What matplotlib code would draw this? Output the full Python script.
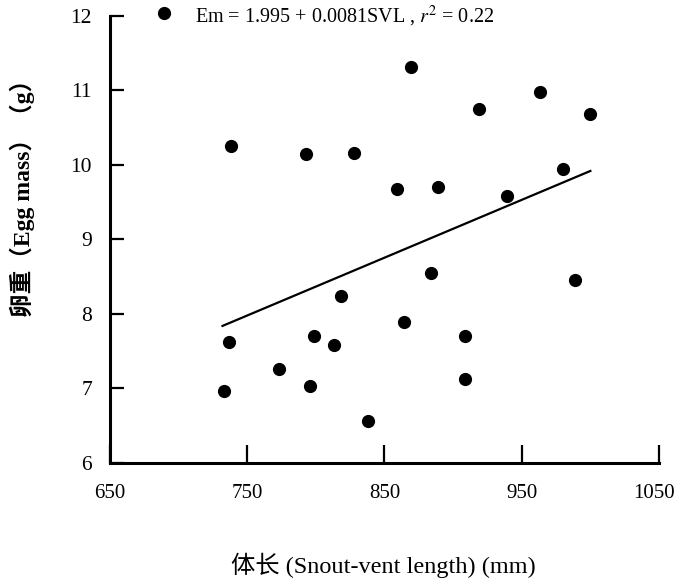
import matplotlib
matplotlib.use("Agg")
import matplotlib.pyplot as plt
import matplotlib.transforms as mtransforms

# Snout-vent length (mm) and egg mass (g)
svl = [689, 738, 793, 869, 963, 919, 1000, 828, 859, 889, 939, 980,
       884, 989, 818, 737, 799, 813, 773, 796, 733, 864, 909, 909, 838]
egg_mass = [12.04, 10.25, 10.15, 11.31, 10.98, 10.75, 10.69, 10.16, 9.68,
            9.71, 9.59, 9.94, 8.55, 8.45, 8.24, 7.63, 7.70, 7.58, 7.26,
            7.03, 6.97, 7.89, 7.70, 7.13, 6.56]

# regression line end points as drawn
fit_x = [732, 1000]
fit_y = [7.84, 9.92]

x_ticks = [650, 750, 850, 950, 1050]
y_ticks = [6, 7, 8, 9, 10, 11, 12]

plt.rcParams["font.family"] = ["Liberation Serif", "Noto Sans CJK SC"]
plt.rcParams["mathtext.fontset"] = "stix"

fig = plt.figure(figsize=(6.78, 5.88), dpi=100)
ax = fig.add_axes([0.1622, 0.2126, 0.8098, 0.7602])

ax.scatter(svl, egg_mass, s=72, color="black", zorder=3, clip_on=False)
ax.plot(fit_x, fit_y, color="black", linewidth=1.6)

ax.set_xlim(650, 1050)
ax.set_ylim(6, 12)
ax.set_xticks(x_ticks)
ax.set_yticks(y_ticks)

for side in ["top", "right"]:
    ax.spines[side].set_visible(False)
for side in ["left", "bottom"]:
    ax.spines[side].set_linewidth(2.2)

ax.tick_params(axis="y", direction="in", length=10, width=1.6,
               labelsize=15.5, pad=13)
ax.tick_params(axis="x", direction="in", length=13, width=1.6,
               labelsize=15, pad=15)

# last x label sits a little left of its tick, so it stays inside the figure
last = ax.get_xticklabels()[-1]
last.set_transform(last.get_transform()
                   + mtransforms.ScaledTranslation(-5 / 100, 0, fig.dpi_scale_trans))

ax.text(0.155, 0.998, "Em = 1.995 + 0.0081SVL , $\\it{r}^2$ = 0.22",
        transform=ax.transAxes, fontsize=14.5, va="center", ha="left")

fig.text(22 / 678, 1 - 192 / 588, "卵重（Egg mass）（g）", rotation=90,
         ha="center", va="center", fontsize=17, fontweight="bold")
fig.text(383 / 678, 1 - 565 / 588, "体长 (Snout-vent length) (mm)",
         ha="center", va="center", fontsize=17.5)

fig.savefig("out.png", dpi=100)
